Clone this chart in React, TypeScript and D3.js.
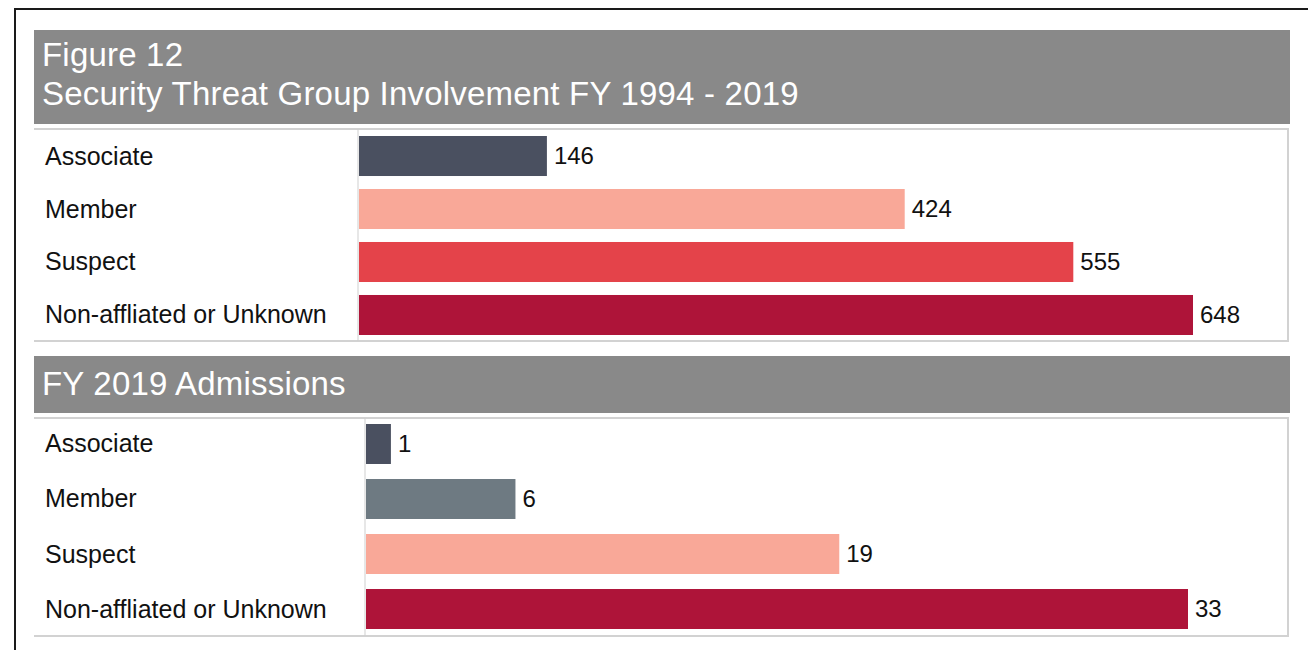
import React from "react";
import * as d3 from "d3";

const categories = ["Associate", "Member", "Suspect", "Non-affliated or Unknown"];
const totalValues = [146, 424, 555, 648];
const admissionValues = [1, 6, 19, 33];
const totalColors = ["#4a5060", "#f9a898", "#e4434a", "#ae1439"];
const admissionColors = ["#4a5060", "#6e7a82", "#f9a898", "#ae1439"];
const titleLines = ["Figure 12", "Security Threat Group Involvement FY 1994 - 2019"];
const subTitle = "FY 2019 Admissions";

const FONT = "'Liberation Sans', Arial, Helvetica, sans-serif";

type PanelProps = {
  values: number[];
  colors: string[];
  top: number;
  bottom: number;
  divider: number;
  xMax: number;
  innerPad: number;
  barTop: number;
  barBottom: number;
};

function Panel({ values, colors, top, bottom, divider, xMax, innerPad, barTop, barBottom }: PanelProps) {
  const x = d3.scaleLinear().domain([0, d3.max(values) as number]).range([divider + 1, xMax]);
  const half = innerPad / 2;
  const step = (barBottom - barTop) / (categories.length - innerPad);
  const y = d3
    .scaleBand<string>()
    .domain(categories)
    .range([barTop - half * step, barBottom + half * step])
    .paddingInner(innerPad)
    .paddingOuter(half);
  return (
    <g>
      <line x1={34} x2={1289} y1={top} y2={top} stroke="#d2d2d2" strokeWidth={2} />
      <line x1={34} x2={1289} y1={bottom} y2={bottom} stroke="#d2d2d2" strokeWidth={2} />
      <line x1={1288} x2={1288} y1={top} y2={bottom} stroke="#d2d2d2" strokeWidth={2} />
      <line x1={divider} x2={divider} y1={top} y2={bottom} stroke="#cfcfcf" strokeWidth={1} />
      {categories.map((c, i) => {
        const yy = y(c) as number;
        const bw = y.bandwidth();
        return (
          <g key={c}>
            <text x={45} y={yy + bw / 2} dy="0.34em" fontSize={25} fill="#111" fontFamily={FONT}>
              {c}
            </text>
            <rect x={x(0)} y={yy} width={x(values[i]) - x(0)} height={bw} fill={colors[i]} />
            <text x={x(values[i]) + 7} y={yy + bw / 2} dy="0.34em" fontSize={24} fill="#111" fontFamily={FONT}>
              {values[i]}
            </text>
          </g>
        );
      })}
    </g>
  );
}

export default function App() {
  return (
    <svg
      width={1308}
      height={650}
      style={{ position: "absolute", left: 0, top: 0, display: "block", background: "#fff" }}
    >
      <rect x={0} y={0} width={1308} height={650} fill="#fff" />
      {/* outer frame */}
      <line x1={14} x2={1308} y1={9} y2={9} stroke="#1a1a1a" strokeWidth={2} />
      <line x1={15} x2={15} y1={8} y2={650} stroke="#1a1a1a" strokeWidth={2} />

      {/* header 1 */}
      <rect x={34} y={30} width={1256} height={94} fill="#898989" />
      <text x={42} y={66} fontSize={33} fill="#fff" fontFamily={FONT} letterSpacing={0.2}>
        {titleLines[0]}
      </text>
      <text x={42} y={105} fontSize={33} fill="#fff" fontFamily={FONT} letterSpacing={0.2}>
        {titleLines[1]}
      </text>

      <Panel
        values={totalValues}
        colors={totalColors}
        top={129}
        bottom={341}
        divider={358}
        xMax={1193}
        innerPad={0.245}
        barTop={136}
        barBottom={335}
      />

      {/* header 2 */}
      <rect x={34} y={356} width={1256} height={57} fill="#898989" />
      <text x={42} y={395} fontSize={33} fill="#fff" fontFamily={FONT} letterSpacing={0.2}>
        {subTitle}
      </text>

      <Panel
        values={admissionValues}
        colors={admissionColors}
        top={418}
        bottom={636}
        divider={365}
        xMax={1188}
        innerPad={0.273}
        barTop={424}
        barBottom={629}
      />
    </svg>
  );
}
